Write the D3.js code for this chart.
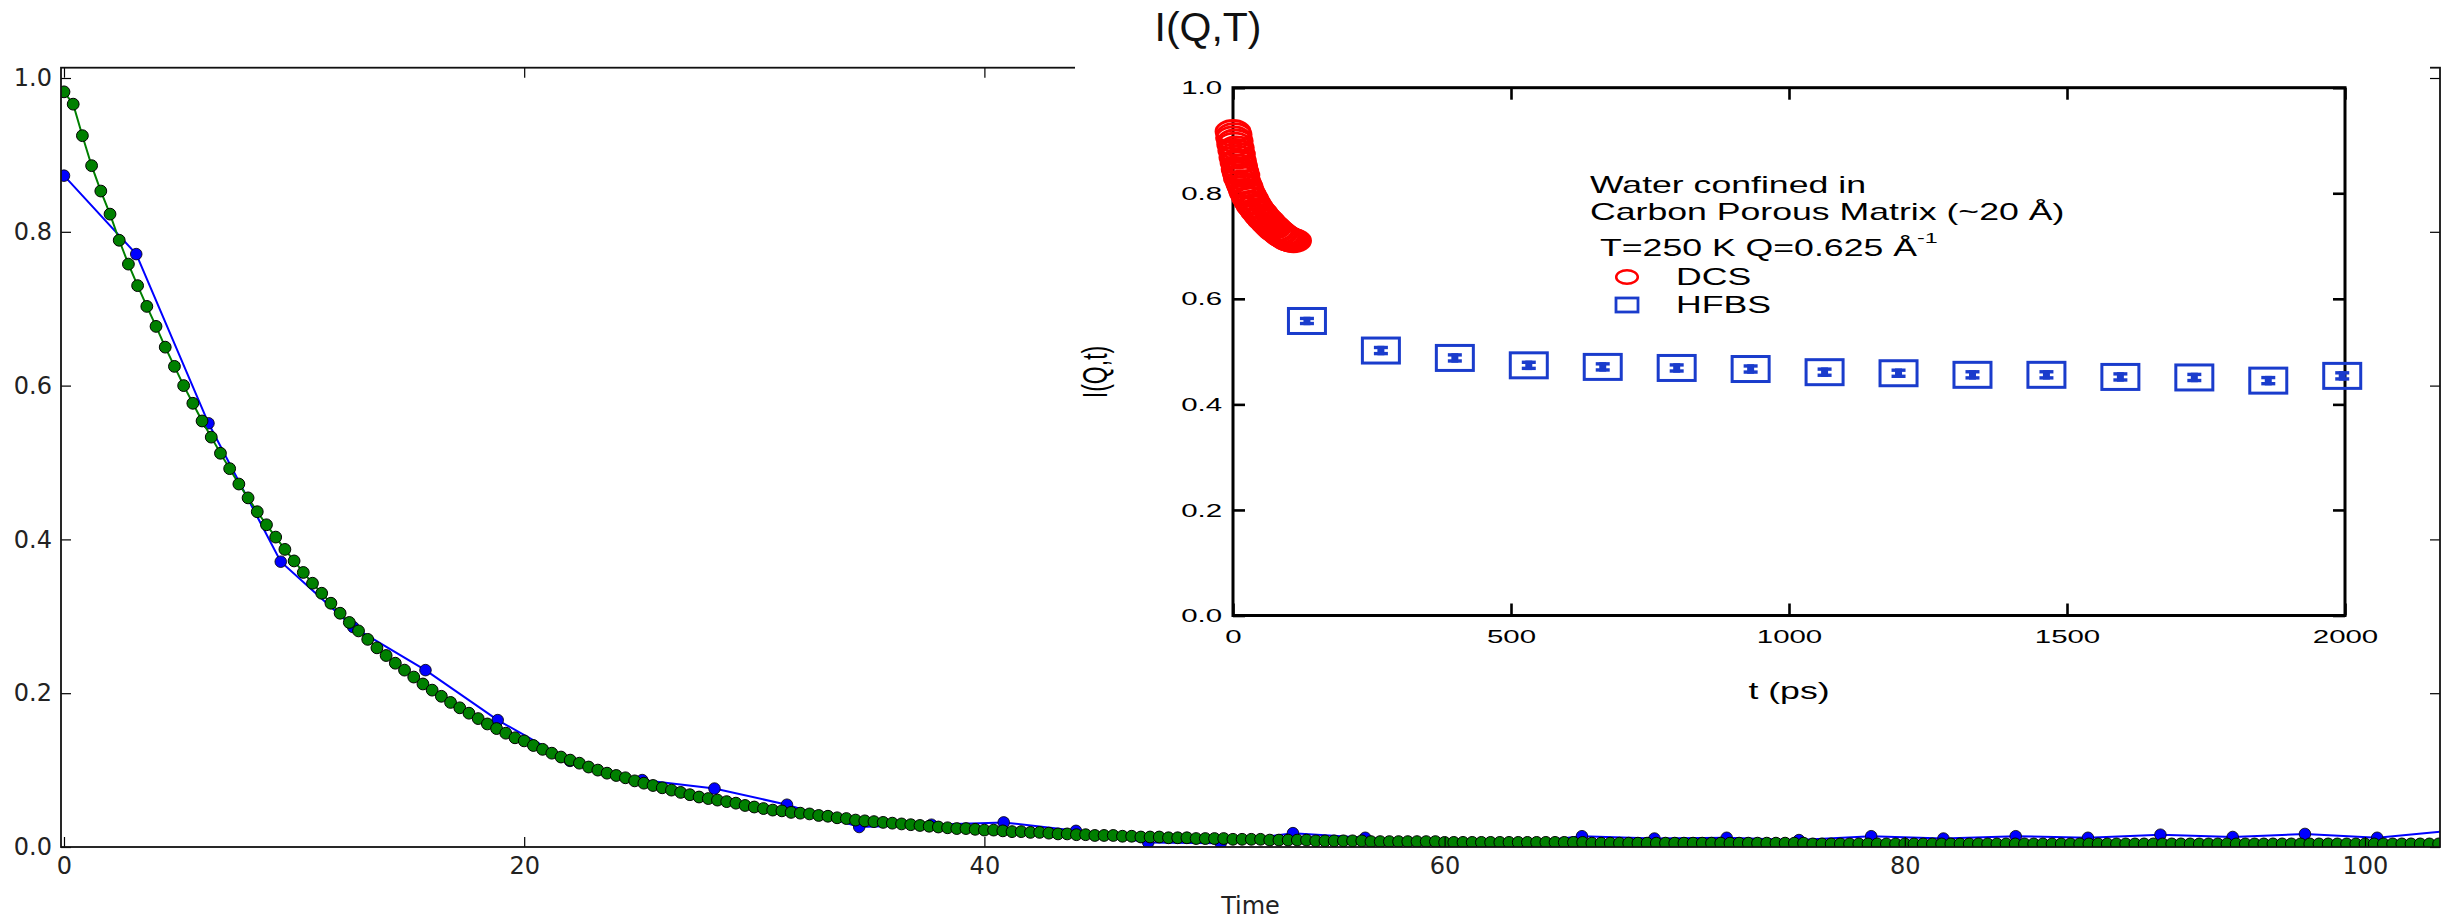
<!DOCTYPE html>
<html>
<head>
<meta charset="utf-8">
<script src="https://cdn.jsdelivr.net/npm/d3@7"></script>
<style>
  body { margin: 0; background: #fff; }
  svg { display: block; }
</style>
</head>
<body>
<svg id="chart" width="2443" height="920"></svg>
<script>
// ---- main axes: sampled correlation (blue) and dense fit (green) ----
const sampleTimes = [0, 3.14, 6.28, 9.42, 12.57, 15.71, 18.85, 21.99, 25.13, 28.27, 31.42, 34.56,
  37.70, 40.84, 43.98, 47.12, 50.27, 53.41, 56.55, 59.69, 62.83, 65.97, 69.12, 72.26, 75.40,
  78.54, 81.68, 84.82, 87.96, 91.11, 94.25, 97.39, 100.53, 103.67];
const sampleValues = [0.873, 0.771, 0.551, 0.371, 0.286, 0.230, 0.165, 0.112, 0.087, 0.076, 0.055, 0.026,
  0.029, 0.032, 0.021, 0.006, 0.005, 0.018, 0.012, 0.005, 0.004, 0.014, 0.011, 0.012, 0.009,
  0.014, 0.011, 0.014, 0.012, 0.016, 0.013, 0.017, 0.012, 0.021];

const fitStep = 0.4;   // time spacing of the fitted curve
const fitValues = [
  0.982, 0.966, 0.925, 0.886, 0.853, 0.823, 0.789, 0.758, 0.730, 0.703,
  0.677, 0.650, 0.625, 0.600, 0.577, 0.554, 0.533, 0.512, 0.492, 0.472,
  0.454, 0.436, 0.419, 0.403, 0.387, 0.372, 0.357, 0.343, 0.330, 0.317,
  0.304, 0.292, 0.281, 0.270, 0.259, 0.249, 0.239, 0.230, 0.221, 0.212,
  0.204, 0.196, 0.188, 0.181, 0.174, 0.167, 0.160, 0.154, 0.148, 0.142,
  0.138, 0.132, 0.127, 0.122, 0.117, 0.113, 0.109, 0.104, 0.100, 0.096,
  0.093, 0.090, 0.086, 0.083, 0.080, 0.077, 0.074, 0.071, 0.068, 0.065,
  0.063, 0.061, 0.059, 0.057, 0.054, 0.052, 0.050, 0.048, 0.047, 0.045,
  0.044, 0.043, 0.041, 0.040, 0.038, 0.037, 0.035, 0.034, 0.033, 0.032,
  0.031, 0.030, 0.029, 0.028, 0.027, 0.026, 0.025, 0.024, 0.024, 0.023,
  0.022, 0.022, 0.021, 0.020, 0.020, 0.019, 0.019, 0.018, 0.017, 0.017,
  0.016, 0.016, 0.015, 0.015, 0.015, 0.014, 0.014, 0.013, 0.013, 0.013,
  0.012, 0.012, 0.012, 0.011, 0.011, 0.011, 0.011, 0.010, 0.010, 0.010,
  0.010, 0.009, 0.009, 0.009, 0.009, 0.009, 0.008, 0.008, 0.008, 0.008,
  0.008, 0.008, 0.007, 0.007, 0.007, 0.007, 0.007, 0.007, 0.007, 0.007,
  0.006, 0.006, 0.006, 0.006, 0.006, 0.006, 0.006, 0.006, 0.006, 0.006,
  0.006, 0.006, 0.006, 0.006, 0.006, 0.006, 0.005, 0.005, 0.005, 0.005,
  0.005, 0.005, 0.005, 0.005, 0.005, 0.005, 0.005, 0.005, 0.005, 0.005,
  0.005, 0.005, 0.005, 0.005, 0.005, 0.005, 0.005, 0.005, 0.005, 0.005,
  0.004, 0.004, 0.004, 0.004, 0.004, 0.004, 0.004, 0.004, 0.004, 0.004,
  0.004, 0.004, 0.004, 0.004, 0.004, 0.004, 0.004, 0.004, 0.004, 0.004,
  0.004, 0.004, 0.004, 0.004, 0.004, 0.004, 0.004, 0.004, 0.004, 0.004,
  0.004, 0.004, 0.004, 0.004, 0.004, 0.004, 0.004, 0.004, 0.004, 0.004,
  0.004, 0.004, 0.004, 0.004, 0.004, 0.004, 0.004, 0.004, 0.004, 0.004,
  0.004, 0.004, 0.004, 0.004, 0.004, 0.004, 0.004, 0.004, 0.004, 0.004,
  0.004, 0.004, 0.004, 0.004, 0.004, 0.004, 0.004, 0.004, 0.004
];
const mainXTicks = [0, 20, 40, 60, 80, 100];
const mainYTicks = [0, 0.2, 0.4, 0.6, 0.8, 1.0];
const mainXLabel = "Time";
const titleText = "I(Q,T)";

// ---- inset: measured intermediate scattering function ----
const dcsTime = [0, 1, 2, 3, 4, 5, 6, 7, 8, 9, 10, 11, 12, 13, 14, 15, 16, 18, 20, 22, 24, 26,
  28, 30, 32, 34, 36, 38, 40, 43, 46, 49, 52, 55, 58, 61, 64, 67, 70, 73, 76, 79, 82, 85,
  88, 91, 94, 97, 100, 103, 106, 109];
const dcsValue = [0.917, 0.905, 0.911, 0.893, 0.899, 0.881, 0.886, 0.868, 0.874, 0.858, 0.861,
  0.846, 0.851, 0.838, 0.842, 0.829, 0.834, 0.822, 0.816, 0.812, 0.805, 0.800, 0.797, 0.791,
  0.789, 0.783, 0.781, 0.776, 0.774, 0.769, 0.765, 0.762, 0.757, 0.754, 0.750, 0.748, 0.743,
  0.741, 0.737, 0.735, 0.731, 0.729, 0.726, 0.724, 0.721, 0.719, 0.717, 0.715, 0.713, 0.712,
  0.711, 0.710];
const hfbsTime = [133, 266, 399, 532, 665, 798, 931, 1064, 1197, 1330, 1463, 1596, 1729, 1862, 1995];
const hfbsValue = [0.558, 0.502, 0.488, 0.474, 0.471, 0.469, 0.467, 0.461, 0.459, 0.456, 0.456,
  0.452, 0.451, 0.445, 0.454];
const hfbsError = [0.008, 0.009, 0.009, 0.009, 0.009, 0.009, 0.009, 0.009, 0.009, 0.009, 0.009,
  0.009, 0.009, 0.009, 0.009];
const insetXTicks = [0, 500, 1000, 1500, 2000];
const insetYTicks = [0, 0.2, 0.4, 0.6, 0.8, 1.0];
const insetXLabel = "t (ps)";
const insetYLabel = "I(Q,t)";
const noteLines = ["Water confined in", "Carbon Porous Matrix (~20 Å)"];
const conditionText = "T=250 K Q=0.625 Å";
const conditionSup = "-1";
const legendLabels = ["DCS", "HFBS"];

// ---------------------------------------------------------------
const svg = d3.select("#chart");
const mainFont = "'DejaVu Sans', sans-serif";
const insetFont = "'Liberation Sans', Arial, sans-serif";
const BLUE = "#0000ff", GREEN = "#008000";
const RED = "#ff0000", HFBS_BLUE = "#1a3ccc";
const STRETCH = 1.55;   // inset artwork is wider than tall

const M = { left: 61, right: 2440, top: 67.7, bottom: 847 };
const x = d3.scaleLinear().domain([-0.13, 103.26]).range([M.left, M.right]);
const y = d3.scaleLinear().domain([0, 1.0134]).range([M.bottom, M.top]);

svg.append("rect").attr("width", 2443).attr("height", 920).attr("fill", "#fff");

svg.append("defs").append("clipPath").attr("id", "mainClip")
  .append("rect").attr("x", M.left).attr("y", M.top)
  .attr("width", M.right - M.left).attr("height", M.bottom - M.top);

const plot = svg.append("g").attr("clip-path", "url(#mainClip)");

const samples = sampleTimes.map((t, i) => ({ t, v: sampleValues[i] }));
const fit = fitValues.map((v, i) => ({ t: i * fitStep, v }));
const line = d3.line().x(d => x(d.t)).y(d => y(d.v));

plot.append("path").datum(samples).attr("d", line)
  .attr("fill", "none").attr("stroke", BLUE).attr("stroke-width", 2);
plot.selectAll("circle.sample").data(samples).join("circle").attr("class", "sample")
  .attr("cx", d => x(d.t)).attr("cy", d => y(d.v)).attr("r", 5.8)
  .attr("fill", BLUE).attr("stroke", "#000").attr("stroke-width", 0.8);

plot.append("path").datum(fit).attr("d", line)
  .attr("fill", "none").attr("stroke", GREEN).attr("stroke-width", 2);
plot.selectAll("circle.fit").data(fit).join("circle").attr("class", "fit")
  .attr("cx", d => x(d.t)).attr("cy", d => y(d.v)).attr("r", 5.9)
  .attr("fill", GREEN).attr("stroke", "#000").attr("stroke-width", 1);

function styleAxis(g, font, size, color, width) {
  g.select(".domain").remove();
  g.selectAll(".tick line").attr("stroke", "#000").attr("stroke-width", width);
  g.selectAll(".tick text").attr("font-family", font).attr("font-size", size).attr("fill", color);
}

const fmt1 = d3.format(".1f"), fmt0 = d3.format("d");
svg.append("g").attr("transform", `translate(0,${M.bottom})`)
  .call(d3.axisBottom(x).tickValues(mainXTicks).tickSize(-10).tickPadding(10).tickFormat(fmt0))
  .call(g => styleAxis(g, mainFont, 24, "#222", 1.2));
svg.append("g").attr("transform", `translate(${M.left},0)`)
  .call(d3.axisLeft(y).tickValues(mainYTicks).tickSize(-10).tickPadding(9).tickFormat(fmt1))
  .call(g => styleAxis(g, mainFont, 24, "#222", 1.2));
svg.append("g").attr("transform", `translate(0,${M.top})`)
  .call(d3.axisTop(x).tickValues(mainXTicks).tickSize(-10).tickFormat(""))
  .call(g => styleAxis(g, mainFont, 24, "#222", 1.2));
svg.append("g").attr("transform", `translate(${M.right},0)`)
  .call(d3.axisRight(y).tickValues(mainYTicks).tickSize(-10).tickFormat(""))
  .call(g => styleAxis(g, mainFont, 24, "#222", 1.2));

svg.append("rect").attr("x", M.left).attr("y", M.top)
  .attr("width", M.right - M.left).attr("height", M.bottom - M.top)
  .attr("fill", "none").attr("stroke", "#111").attr("stroke-width", 1.8);

svg.append("text").attr("x", (M.left + M.right) / 2).attr("y", 914)
  .attr("text-anchor", "middle").attr("font-family", mainFont).attr("font-size", 24)
  .attr("fill", "#222").text(mainXLabel);

// ---- inset panel ----
svg.append("rect").attr("x", 1075).attr("y", 0).attr("width", 1355).attr("height", 722)
  .attr("fill", "#fff");

svg.append("text").attr("x", 1208).attr("y", 41).attr("text-anchor", "middle")
  .attr("font-family", insetFont).attr("font-size", 41).attr("fill", "#111").text(titleText);

const I = { left: 1233, right: 2345, top: 87.7, bottom: 615.5 };
const ix = d3.scaleLinear().domain([0, 2000]).range([I.left, I.right]);
const iy = d3.scaleLinear().domain([0, 1]).range([I.bottom, I.top]);

function stretchText(g) {
  g.selectAll(".tick text").attr("transform", `scale(${STRETCH},1)`);
}
svg.append("g").attr("transform", `translate(0,${I.bottom})`)
  .call(d3.axisBottom(ix).tickValues(insetXTicks).tickSize(-12).tickPadding(14).tickFormat(fmt0))
  .call(g => styleAxis(g, insetFont, 19, "#000", 2.6)).call(stretchText);
svg.append("g").attr("transform", `translate(${I.left},0)`)
  .call(d3.axisLeft(iy).tickValues(insetYTicks).tickSize(-12).tickPadding(7).tickFormat(fmt1))
  .call(g => styleAxis(g, insetFont, 19, "#000", 2.6)).call(stretchText);
svg.append("g").attr("transform", `translate(0,${I.top})`)
  .call(d3.axisTop(ix).tickValues(insetXTicks).tickSize(-12).tickFormat(""))
  .call(g => styleAxis(g, insetFont, 19, "#000", 2.6));
svg.append("g").attr("transform", `translate(${I.right},0)`)
  .call(d3.axisRight(iy).tickValues(insetYTicks).tickSize(-12).tickFormat(""))
  .call(g => styleAxis(g, insetFont, 19, "#000", 2.6));

svg.append("rect").attr("x", I.left).attr("y", I.top)
  .attr("width", I.right - I.left).attr("height", I.bottom - I.top)
  .attr("fill", "none").attr("stroke", "#000").attr("stroke-width", 3);

svg.append("text").attr("transform", `translate(${(I.left + I.right) / 2},699) scale(${STRETCH},1)`)
  .attr("text-anchor", "middle").attr("font-family", insetFont).attr("font-size", 23)
  .attr("fill", "#000").text(insetXLabel);
svg.append("text").attr("transform", `translate(1107,372) scale(${STRETCH},1) rotate(-90)`)
  .attr("text-anchor", "middle").attr("font-family", insetFont).attr("font-size", 23)
  .attr("fill", "#000").text(insetYLabel);

// DCS circles
const dcs = dcsTime.map((t, i) => ({ t, v: dcsValue[i] }));
svg.append("g").selectAll("ellipse").data(dcs).join("ellipse")
  .attr("cx", d => ix(d.t)).attr("cy", d => iy(d.v))
  .attr("rx", 17).attr("ry", 11)
  .attr("fill", "none").attr("stroke", RED).attr("stroke-width", 2.8);

// HFBS squares with error bars
const hfbs = hfbsTime.map((t, i) => ({ t, v: hfbsValue[i], e: hfbsError[i] }));
const hg = svg.append("g").selectAll("g").data(hfbs).join("g");
hg.append("rect").attr("x", d => ix(d.t) - 18.5).attr("y", d => iy(d.v) - 12.5)
  .attr("width", 37).attr("height", 25)
  .attr("fill", "none").attr("stroke", HFBS_BLUE).attr("stroke-width", 3);
hg.append("line").attr("x1", d => ix(d.t)).attr("x2", d => ix(d.t))
  .attr("y1", d => iy(d.v + d.e)).attr("y2", d => iy(d.v - d.e))
  .attr("stroke", HFBS_BLUE).attr("stroke-width", 7);
hg.append("line").attr("x1", d => ix(d.t) - 7).attr("x2", d => ix(d.t) + 7)
  .attr("y1", d => iy(d.v + d.e) + 1.7).attr("y2", d => iy(d.v + d.e) + 1.7)
  .attr("stroke", HFBS_BLUE).attr("stroke-width", 3.4);
hg.append("line").attr("x1", d => ix(d.t) - 7).attr("x2", d => ix(d.t) + 7)
  .attr("y1", d => iy(d.v - d.e) - 1.7).attr("y2", d => iy(d.v - d.e) - 1.7)
  .attr("stroke", HFBS_BLUE).attr("stroke-width", 3.4);

// annotation and legend
const note = svg.append("g").attr("font-family", insetFont).attr("font-size", 23).attr("fill", "#000");
noteLines.forEach((s, i) => {
  note.append("text").attr("transform", `translate(1590,${193 + i * 27}) scale(${STRETCH},1)`).text(s);
});
const cond = note.append("text").attr("transform", `translate(1600,256) scale(${STRETCH},1)`);
cond.append("tspan").text(conditionText);
cond.append("tspan").attr("dy", -13).attr("font-size", 15).text(conditionSup);

legendLabels.forEach((s, i) => {
  const cy = 277 + i * 28;
  if (i === 0) {
    svg.append("ellipse").attr("cx", 1627).attr("cy", cy).attr("rx", 10.8).attr("ry", 6.8)
      .attr("fill", "none").attr("stroke", RED).attr("stroke-width", 2.5);
  } else {
    svg.append("rect").attr("x", 1616).attr("y", cy - 7).attr("width", 22).attr("height", 14)
      .attr("fill", "none").attr("stroke", HFBS_BLUE).attr("stroke-width", 2.8);
  }
  note.append("text").attr("transform", `translate(1676,${cy + 8}) scale(${STRETCH},1)`).text(s);
});
</script>
</body>
</html>
